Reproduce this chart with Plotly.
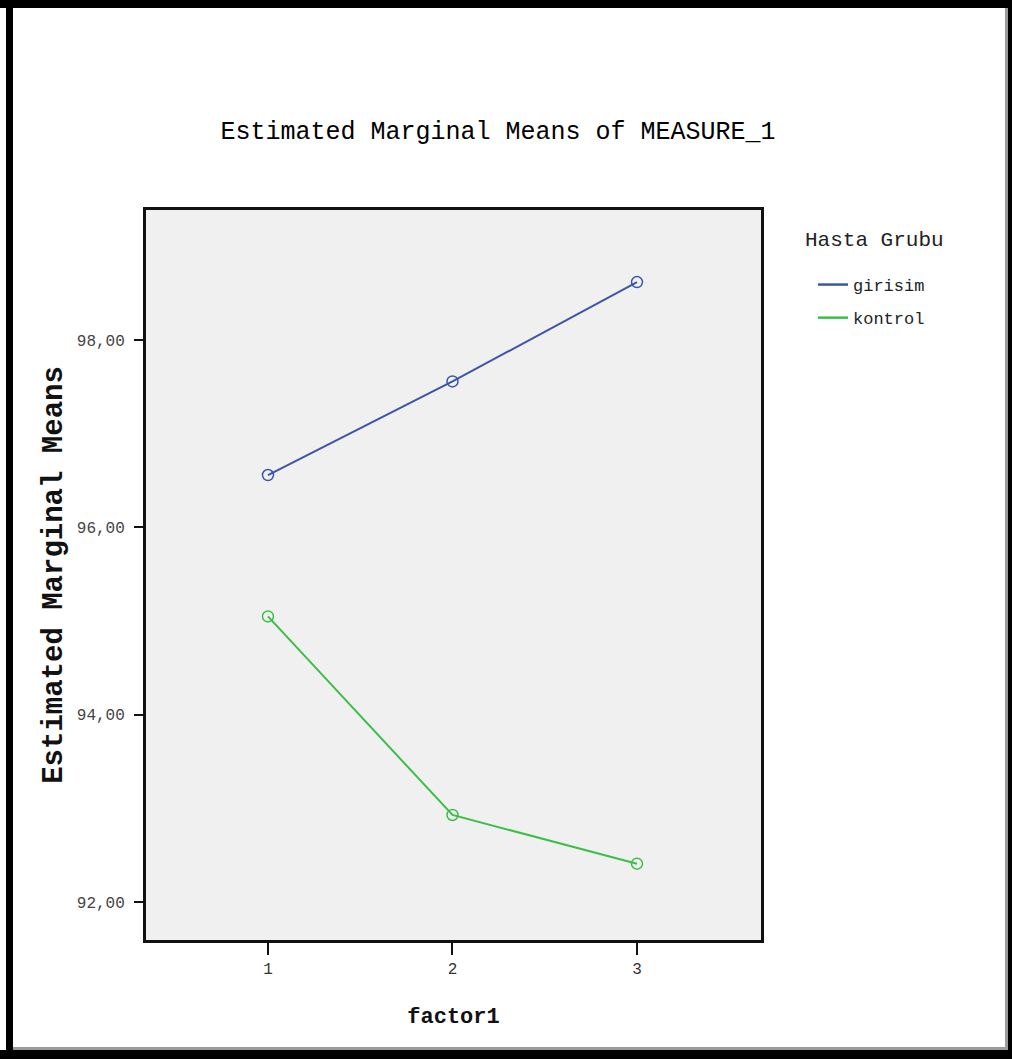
import plotly.graph_objects as go

# Data
factor_levels = [1, 2, 3]
girisim = [96.56, 97.56, 98.62]
kontrol = [95.05, 92.93, 92.41]
series_names = ["girisim", "kontrol"]
legend_title = "Hasta Grubu"
y_ticks = [92, 94, 96, 98]
x_ticks = [1, 2, 3]

W, H = 1012, 1059
PL, PR, PT, PB = 146, 761, 210, 940  # plot area in pixels


def px(x):
    return (x - PL) / (PR - PL)


def py(y):
    return (PB - y) / (PB - PT)


MONO = "Liberation Mono, DejaVu Sans Mono, monospace"
BLUE = "#3D55A8"
GREEN = "#3DBE48"

fig = go.Figure()
for i, (name, vals, col) in enumerate([(series_names[0], girisim, BLUE),
                                       (series_names[1], kontrol, GREEN)]):
    fig.add_trace(go.Scatter(
        x=factor_levels, y=vals, name=name, mode="lines+markers",
        line=dict(color=col, width=2), showlegend=False, legendgroup=name,
        marker=dict(symbol="circle-open", size=11, color=col, line=dict(width=1.5, color=col)),
    ))
    # legend entry (line only)
    fig.add_trace(go.Scatter(
        x=[None], y=[None], name=name, mode="lines", legendgroup=name,
        line=dict(color=col, width=2.5), showlegend=True,
    ))

shapes = []


def rect(x0, y0, x1, y1, color):
    shapes.append(dict(type="rect", xref="paper", yref="paper",
                       x0=px(x0), x1=px(x1), y0=py(y1), y1=py(y0),
                       fillcolor=color, line=dict(width=0), layer="above"))


# outer black frame
rect(0, 0, W, 8, "black")
rect(6, 0, 13, H, "black")
rect(1008, 0, W, H, "black")
rect(0, 1050, W, H, "black")
# thin gray inner lines
rect(1005, 8, 1008, 1050, "#9a9a9a")
rect(13, 1047, 1008, 1050, "#9a9a9a")

fig.update_layout(
    width=W, height=H,
    margin=dict(l=PL, r=W - PR, t=PT, b=H - PB, autoexpand=False),
    paper_bgcolor="white",
    plot_bgcolor="#F0F0F0",
    separators=",.",
    shapes=shapes,
    title=dict(text="Estimated Marginal Means of MEASURE_1",
               font=dict(family=MONO, size=25, color="black"),
               xref="paper", x=px(498), xanchor="center",
               yref="container", y=1 - 130 / H, yanchor="middle"),
    annotations=[dict(text=legend_title, xref="paper", yref="paper",
                      x=px(803), y=py(240), xanchor="left", yanchor="middle",
                      showarrow=False, font=dict(family=MONO, size=21, color="#222"))],
    showlegend=True,
    legend=dict(x=px(813), xanchor="left", y=py(267), yanchor="top",
                bgcolor="rgba(0,0,0,0)",
                font=dict(family=MONO, size=17, color="#222"),
                tracegroupgap=8),
    xaxis=dict(range=[0.339, 3.672], tickvals=x_ticks, ticktext=[str(v) for v in x_ticks],
               showgrid=False, zeroline=False,
               showline=True, linecolor="#111", linewidth=3, mirror=True,
               ticks="outside", ticklen=12, tickwidth=2, tickcolor="#111",
               tickfont=dict(family=MONO, size=16, color="#333"),
               title=dict(text="<b>factor1</b>", font=dict(family=MONO, size=22, color="#111"),
                          standoff=30)),
    yaxis=dict(range=[91.595, 99.39], tickvals=y_ticks, tickformat=".2f",
               showgrid=False, zeroline=False,
               showline=True, linecolor="#111", linewidth=3, mirror=True,
               ticks="outside", ticklen=9, tickwidth=2, tickcolor="#111",
               ticklabelstandoff=6,
               tickfont=dict(family=MONO, size=16, color="#444"),
               title=dict(text="<b>Estimated Marginal Means</b>",
                          font=dict(family=MONO, size=29, color="#111"), standoff=6)),
)

fig.write_html("out.html", config={"displayModeBar": False},
               post_script="document.body.style.margin='0';document.body.style.overflow='hidden';")
